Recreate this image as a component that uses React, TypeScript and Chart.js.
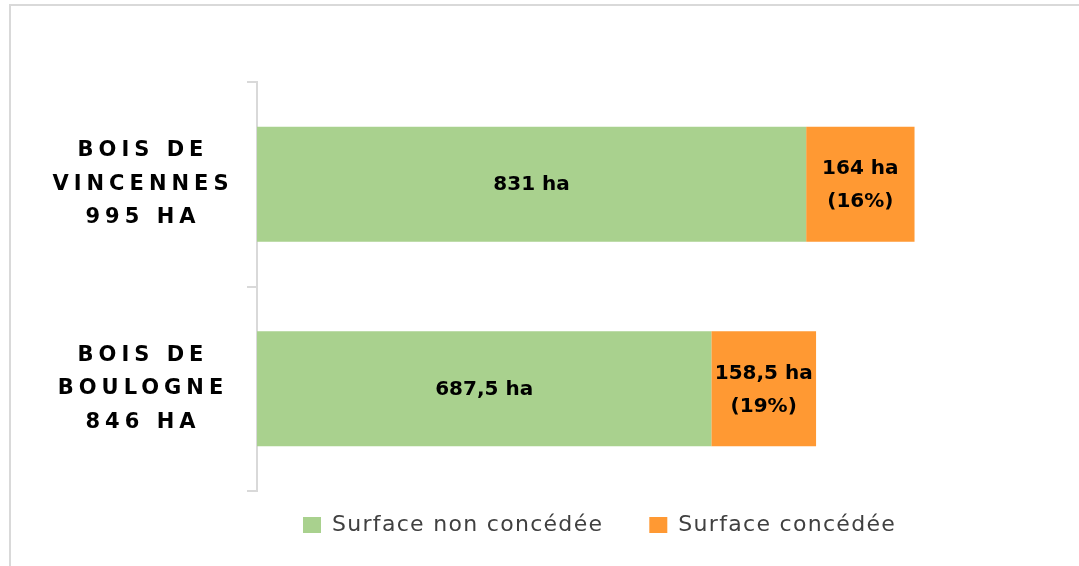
import React, { useEffect, useRef } from "react";
import { Chart, registerables } from "chart.js";

Chart.register(...registerables);

// ---- data ----
const categoryNames: string[][] = [
  ["BOIS DE", "VINCENNES"],
  ["BOIS DE", "BOULOGNE"],
];
const seriesNames: string[] = ["Surface non concédée", "Surface concédée"];
const surfaceNonConcedee: number[] = [831, 687.5];
const surfaceConcedee: number[] = [164, 158.5];
const seriesColors: string[] = ["#A9D18E", "#FF9933"];
const unit = "ha";

const totals = surfaceNonConcedee.map((v, i) => v + surfaceConcedee[i]);
const categoryLabels = categoryNames.map((n, i) => [...n, `${String(totals[i]).replace(".", ",")} ${unit.toUpperCase()}`]);

const FONT = '"DejaVu Sans", sans-serif';
const fmt = (v: number) => String(v).replace(".", ",");

const valueLabels = {
  id: "valueLabels",
  beforeDraw(chart: any) {
    chart.ctx.letterSpacing = "1.3px"; // legend text
  },
  afterDatasetsDraw(chart: any) {
    const ctx = chart.ctx;
    ctx.letterSpacing = "0px";
    ctx.save();
    ctx.font = `bold 20px ${FONT}`;
    ctx.fillStyle = "#000000";
    ctx.textAlign = "center";
    ctx.textBaseline = "middle";
    chart.data.datasets.forEach((ds: any, di: number) => {
      const meta = chart.getDatasetMeta(di);
      meta.data.forEach((bar: any, i: number) => {
        const { x, y, base } = bar.getProps(["x", "y", "base"], true);
        const cx = (x + base) / 2;
        const v = ds.data[i] as number;
        if (di === 0) {
          ctx.fillText(`${fmt(v)} ${unit}`, cx, y + 1);
        } else {
          const pct = Math.round((v / totals[i]) * 100);
          ctx.fillText(`${fmt(v)} ${unit}`, cx, y - 15);
          ctx.fillText(`(${pct}%)`, cx, y + 18);
        }
      });
    });
    ctx.restore();
    ctx.letterSpacing = "5px"; // y axis labels (drawn after datasets)
  },
  afterDraw(chart: any) {
    chart.ctx.letterSpacing = "0px";
  },
};

const legendNudge = {
  id: "legendNudge",
  afterLayout(chart: any) {
    const l = chart.legend;
    if (l) {
      l.top -= 23;
      l.bottom -= 23;
    }
  },
};

export default function App() {
  const ref = useRef<HTMLCanvasElement | null>(null);
  useEffect(() => {
    if (!ref.current) return;
    const chart = new Chart(ref.current, {
      type: "bar",
      data: {
        labels: categoryLabels,
        datasets: [
          {
            label: seriesNames[0],
            data: surfaceNonConcedee,
            backgroundColor: seriesColors[0],
            borderWidth: 0,
            barPercentage: 0.5625,
            categoryPercentage: 1,
          },
          {
            label: seriesNames[1],
            data: surfaceConcedee,
            backgroundColor: seriesColors[1],
            borderWidth: 0,
            barPercentage: 0.5625,
            categoryPercentage: 1,
          },
        ],
      },
      options: {
        indexAxis: "y",
        responsive: false,
        animation: false,
        events: [],
        layout: { padding: { top: 82, left: 0, right: 29, bottom: 0 } },
        scales: {
          x: { display: false, stacked: true, min: 0, max: 1200 },
          y: {
            stacked: true,
            grid: {
              display: true,
              drawOnChartArea: false,
              drawTicks: true,
              tickLength: 10,
              color: "#D9D9D9",
              lineWidth: 2,
              offset: true,
            },
            border: { display: true, color: "#D9D9D9", width: 2 },
            ticks: {
              crossAlign: "center",
              padding: 36,
              color: "#000000",
              z: 1,
              font: { family: FONT, weight: "bold", size: 21, lineHeight: 1.6 },
            },
            afterFit: (s: any) => {
              s.width = 257;
              s.paddingTop = 0;
              s.paddingBottom = 0;
            },
          },
        },
        plugins: {
          tooltip: { enabled: false },
          legend: {
            position: "bottom",
            fullSize: false,
            align: "start",
            maxHeight: 75,
            labels: {
              boxWidth: 18,
              boxHeight: 16,
              padding: 46,
              color: "#404040",
              font: { family: FONT, size: 22 },
            },
          },
        },
      },
      plugins: [valueLabels, legendNudge],
    } as any);
    return () => chart.destroy();
  }, []);

  return (
    <div
      style={{
        position: "fixed",
        left: 0,
        top: 0,
        width: 1079,
        height: 566,
        overflow: "hidden",
        background: "#ffffff",
      }}
    >
      <div
        style={{
          position: "absolute",
          left: 9,
          top: 4,
          width: 1120,
          height: 620,
          border: "2px solid #D9D9D9",
        }}
      />
      <canvas
        ref={ref}
        width={1079}
        height={566}
        style={{ position: "absolute", left: 0, top: 0, width: 1079, height: 566 }}
      />
    </div>
  );
}
